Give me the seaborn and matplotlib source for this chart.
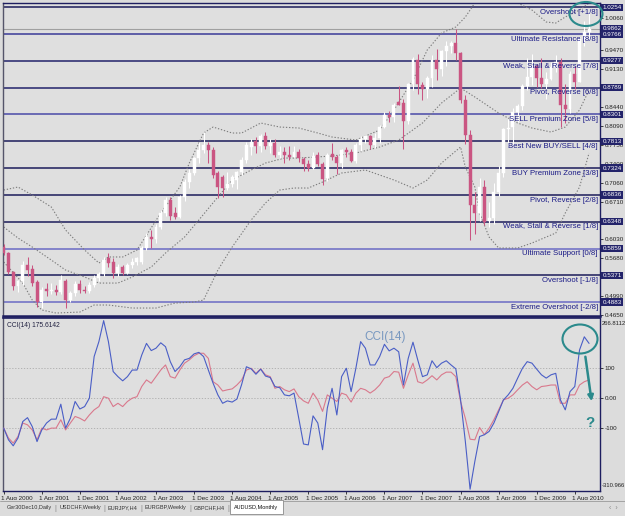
import numpy as np
import pandas as pd
import matplotlib
matplotlib.use('Agg')
import matplotlib.pyplot as plt
import matplotlib.transforms as mtransforms
import seaborn as sns
from matplotlib.patches import Ellipse, Rectangle, FancyArrowPatch

sns.set_style('white')
plt.rcParams['font.family'] = ['Liberation Sans', 'DejaVu Sans']

# AUDUSD monthly candles, Aug 2000 .. Nov 2010
opens = [0.5880, 0.5770, 0.5430, 0.5170, 0.5260, 0.5560, 0.5480, 0.5250, 0.4880, 0.5120,
         0.5080, 0.5110, 0.5060, 0.5270, 0.4920, 0.5050, 0.5210, 0.5100, 0.5080, 0.5200,
         0.5330, 0.5400, 0.5690, 0.5610, 0.5410, 0.5530, 0.5410, 0.5550, 0.5610, 0.5620,
         0.5870, 0.6070, 0.6030, 0.6250, 0.6500, 0.6740, 0.6510, 0.6440, 0.6800, 0.7070,
         0.7240, 0.7510, 0.7650, 0.7740, 0.7660, 0.7230, 0.7160, 0.6960, 0.7040, 0.7100,
         0.7250, 0.7470, 0.7700, 0.7810, 0.7720, 0.7900, 0.7730, 0.7790, 0.7560, 0.7620,
         0.7570, 0.7530, 0.7620, 0.7490, 0.7400, 0.7330, 0.7560, 0.7400, 0.7140, 0.7580,
         0.7520, 0.7410, 0.7650, 0.7620, 0.7450, 0.7740, 0.7860, 0.7900, 0.7750, 0.7880,
         0.8070, 0.8300, 0.8260, 0.8530, 0.8510, 0.8180, 0.8850, 0.9300, 0.8830, 0.8760,
         0.8960, 0.9300, 0.9130, 0.9450, 0.9550, 0.9600, 0.9420, 0.8560, 0.7930, 0.6650,
         0.6500, 0.6980, 0.6360, 0.6420, 0.6890, 0.7230, 0.8030, 0.8070, 0.8340, 0.8450,
         0.8820, 0.8990, 0.9190, 0.8970, 0.8860, 0.8950, 0.9170, 0.9250, 0.8470, 0.8400,
         0.9030, 0.8900, 0.9680, 0.9810]
highs = [0.5950, 0.5800, 0.5450, 0.5290, 0.5630, 0.5710, 0.5560, 0.5290, 0.5160, 0.5230,
         0.5230, 0.5200, 0.5370, 0.5310, 0.5080, 0.5260, 0.5290, 0.5180, 0.5250, 0.5370,
         0.5440, 0.5700, 0.5770, 0.5680, 0.5580, 0.5560, 0.5590, 0.5680, 0.5700, 0.5900,
         0.6140, 0.6196, 0.6300, 0.6560, 0.6790, 0.6790, 0.6620, 0.6840, 0.7130, 0.7300,
         0.7530, 0.7800, 0.7980, 0.7800, 0.7700, 0.7270, 0.7190, 0.7250, 0.7200, 0.7270,
         0.7520, 0.7800, 0.7850, 0.7890, 0.7950, 0.7990, 0.7850, 0.7850, 0.7720, 0.7700,
         0.7720, 0.7730, 0.7680, 0.7530, 0.7470, 0.7620, 0.7610, 0.7430, 0.7590, 0.7790,
         0.7570, 0.7670, 0.7700, 0.7680, 0.7780, 0.7900, 0.7920, 0.7930, 0.7960, 0.8110,
         0.8340, 0.8370, 0.8510, 0.8820, 0.8590, 0.8880, 0.9350, 0.9410, 0.8890, 0.9000,
         0.9390, 0.9500, 0.9470, 0.9640, 0.9640, 0.9850, 0.9440, 0.8650, 0.8010, 0.6880,
         0.7150, 0.7100, 0.6710, 0.7050, 0.7360, 0.8060, 0.8210, 0.8420, 0.8500, 0.8850,
         0.9330, 0.9400, 0.9220, 0.9330, 0.9070, 0.9260, 0.9380, 0.9330, 0.8860, 0.9090,
         0.9180, 0.9710, 0.9995, 1.0180]
lows = [0.5750, 0.5400, 0.5100, 0.5070, 0.5200, 0.5360, 0.5180, 0.4800, 0.4775, 0.5000,
        0.5030, 0.5020, 0.5030, 0.4780, 0.4890, 0.5000, 0.5040, 0.5040, 0.5050, 0.5150,
        0.5260, 0.5350, 0.5520, 0.5330, 0.5350, 0.5370, 0.5400, 0.5510, 0.5560, 0.5580,
        0.5830, 0.5870, 0.5960, 0.6210, 0.6460, 0.6380, 0.6400, 0.6420, 0.6730, 0.6970,
        0.7190, 0.7420, 0.7600, 0.7410, 0.7140, 0.6780, 0.6800, 0.6930, 0.6980, 0.6950,
        0.7200, 0.7410, 0.7570, 0.7600, 0.7620, 0.7670, 0.7600, 0.7530, 0.7500, 0.7420,
        0.7480, 0.7520, 0.7440, 0.7280, 0.7270, 0.7300, 0.7360, 0.7020, 0.7080, 0.7470,
        0.7210, 0.7320, 0.7530, 0.7440, 0.7410, 0.7640, 0.7780, 0.7670, 0.7690, 0.7780,
        0.8050, 0.8170, 0.8160, 0.8470, 0.7675, 0.8130, 0.8750, 0.8670, 0.8570, 0.8600,
        0.8810, 0.8920, 0.9000, 0.9190, 0.9420, 0.9290, 0.8510, 0.7760, 0.6010, 0.6130,
        0.6360, 0.6290, 0.6250, 0.6300, 0.6810, 0.7160, 0.7730, 0.7700, 0.8170, 0.8380,
        0.8740, 0.8840, 0.8800, 0.8780, 0.8580, 0.8920, 0.9080, 0.8080, 0.8140, 0.8320,
        0.8770, 0.8890, 0.9540, 0.9660]
closes = [0.5770, 0.5430, 0.5180, 0.5260, 0.5560, 0.5470, 0.5230, 0.4880, 0.5100, 0.5080,
          0.5110, 0.5060, 0.5290, 0.4920, 0.5050, 0.5210, 0.5100, 0.5080, 0.5200, 0.5330,
          0.5400, 0.5650, 0.5600, 0.5410, 0.5530, 0.5410, 0.5550, 0.5620, 0.5680, 0.5870,
          0.6070, 0.6030, 0.6250, 0.6500, 0.6740, 0.6460, 0.6440, 0.6800, 0.7070, 0.7240,
          0.7510, 0.7650, 0.7740, 0.7660, 0.7200, 0.6980, 0.6960, 0.7040, 0.7170, 0.7250,
          0.7470, 0.7740, 0.7800, 0.7720, 0.7900, 0.7730, 0.7790, 0.7560, 0.7620, 0.7570,
          0.7530, 0.7620, 0.7500, 0.7400, 0.7320, 0.7550, 0.7400, 0.7130, 0.7570, 0.7520,
          0.7410, 0.7650, 0.7620, 0.7450, 0.7740, 0.7860, 0.7900, 0.7750, 0.7880, 0.8070,
          0.8300, 0.8260, 0.8470, 0.8480, 0.8180, 0.8850, 0.9310, 0.8850, 0.8760, 0.8960,
          0.9300, 0.9130, 0.9450, 0.9550, 0.9600, 0.9420, 0.8560, 0.7930, 0.6650, 0.6500,
          0.6980, 0.6350, 0.6420, 0.6890, 0.7230, 0.8030, 0.8060, 0.8340, 0.8450, 0.8820,
          0.8990, 0.9180, 0.8970, 0.8860, 0.8950, 0.9170, 0.9250, 0.8470, 0.8400, 0.9030,
          0.8900, 0.9680, 0.9810, 0.9862]

# Bollinger bands, sampled by month index
upper_idx = [0, 3, 6, 10, 13, 17, 20, 22, 25, 28, 33, 37, 39, 42, 44, 48, 50, 54, 58, 62,
             66, 69, 74, 79, 82, 86, 89, 92, 95, 97, 99]
upper_val = [0.6924, 0.6979, 0.6833, 0.6615, 0.6196, 0.5832, 0.5595, 0.5705, 0.5705, 0.5832,
             0.6506, 0.6979, 0.7416, 0.7963, 0.8072, 0.7963, 0.7963, 0.8145, 0.8072, 0.8054,
             0.7963, 0.7890, 0.7835, 0.8017, 0.8382, 0.8928, 0.9475, 0.9784, 0.9894, 1.0076,
             1.0331]
upper2_idx = [108, 111, 114, 116, 118, 121, 123]
upper2_val = [1.0331, 1.0203, 0.9985, 0.9966, 1.0076, 1.0203, 1.0331]
mid_idx = [0, 3, 6, 10, 13, 17, 20, 24, 27, 31, 34, 38, 41, 45, 48, 52, 55, 59, 62, 69,
           74, 79, 83, 88, 92, 96, 99, 104, 108, 111, 115, 118, 121, 123]
mid_val = [0.6251, 0.6050, 0.5886, 0.5649, 0.5467, 0.5340, 0.5230, 0.5230, 0.5340, 0.5522,
           0.5777, 0.6068, 0.6378, 0.6797, 0.7107, 0.7289, 0.7416, 0.7507, 0.7507, 0.7544,
           0.7598, 0.7708, 0.7835, 0.8145, 0.8509, 0.8782, 0.8619, 0.8327, 0.8145, 0.8054,
           0.7981, 0.8072, 0.8382, 0.8746]
lower_idx = [0, 4, 6, 8, 11, 16, 19, 22, 27, 32, 36, 40, 42, 45, 48, 52, 55, 58, 61, 64,
             67, 71, 76, 82, 86, 89, 92, 96, 97, 99, 100, 102, 104, 108, 111, 116, 118, 121, 123]
lower_val = [0.5613, 0.5230, 0.4921, 0.4739, 0.4684, 0.4702, 0.4830, 0.4830, 0.4775, 0.4775,
             0.4866, 0.4884, 0.4921, 0.5467, 0.5886, 0.6378, 0.6688, 0.6924, 0.6961, 0.6961,
             0.7070, 0.7234, 0.7289, 0.7107, 0.6961, 0.7107, 0.7416, 0.7708, 0.7343, 0.6979,
             0.6506, 0.6068, 0.5868, 0.5868, 0.5959, 0.6141, 0.6506, 0.6979, 0.7598]

# CCI(14) and its signal line
cci_main = [-101, -140, -160, -134, -79, -66, -96, -146, -107, -84,
            -71, -71, -21, -101, -68, -12, -37, -29, -1, 138,
            188, 258, 188, 88, 71, 57, 71, 93, 93, 143,
            182, 158, 166, 184, 171, 121, 88, 104, 127, 132,
            147, 152, 138, 93, 49, 10, -18, -10, -14, -4,
            45, 104, 97, 79, 96, 73, 68, 38, 34, 10,
            7, 16, -68, -154, -157, -60, -84, -173, -34, 32,
            -57, 71, 99, 21, 99, 188, 166, 110, 110, 138,
            179, 157, 166, 154, 43, 132, 186, 127, 71, 77,
            124, 101, 116, 124, 110, 97, -6, -145, -305, -212,
            -129, -123, -112, -84, -46, -7, 10, 32, 66, 99,
            121, 116, 96, 77, 66, 77, 82, -7, -40, 21,
            38, 160, 204, 182]
cci_signal = [-101, -134, -151, -129, -84, -90, -107, -140, -101, -107,
              -101, -101, -73, -107, -84, -62, -68, -77, -57, -40,
              -29, 4, -1, -29, -18, -29, -12, -1, 4, 38,
              60, 49, 71, 93, 110, 71, 66, 93, 116, 127,
              141, 149, 149, 132, 54, 43, 23, 27, 30, 43,
              60, 93, 99, 82, 97, 77, 71, 32, 38, 27,
              21, 30, 4, -10, -18, 16, -7, -45, 10, -1,
              -12, 16, 10, -14, 16, 32, 27, 16, 27, 43,
              66, 71, 88, 86, 32, 77, 116, 54, 49, 60,
              74, 60, 77, 86, 86, 71, -12, -68, -138, -140,
              -99, -123, -101, -73, -40, -7, -1, 10, 27, 43,
              54, 38, 27, 38, 40, 43, 43, -18, -18, 10,
              10, 43, 54, 60]
cci_title = 'CCI(14) 175.6142'

# Murrey math levels
level_prices = [1.0254, 0.9766, 0.9277, 0.8789, 0.8301, 0.7813, 0.7324, 0.6836,
                0.6348, 0.5859, 0.5371, 0.4883]
level_names = ['Overshoot [+1/8]', 'Ultimate Resistance [8/8]', 'Weak, Stall & Reverse [7/8]',
               'Pivot, Reverse [6/8]', 'SELL Premium Zone [5/8]', 'Best New BUY/SELL [4/8]',
               'BUY Premium Zone [3/8]', 'Pivot, Reverse [2/8]', 'Weak, Stall & Reverse [1/8]',
               'Ultimate Support [0/8]', 'Overshoot [-1/8]', 'Extreme Overshoot [-2/8]']
level_colors = ['#1c1c5a', '#3a3a98', '#22226a', '#22226a', '#4a4aa8', '#1c1c5a',
                '#1c1c5a', '#1c1c5a', '#1c1c5a', '#6a6ac4', '#1c1c5a', '#6a6ac4']
price_ticks = [1.0060, 0.9470, 0.9130, 0.8440, 0.8090, 0.7750, 0.7400, 0.7060, 0.6710,
               0.6030, 0.5680, 0.4990, 0.4650]
bid_price = 0.9862

tabs = ['Ger30Dec10,Daily', 'USDCHF,Weekly', 'EURJPY,H4', 'EURGBP,Weekly', 'GBPCHF,H4']
active_tab = 'AUDUSD,Monthly'

df = pd.DataFrame({'open': opens, 'high': highs, 'low': lows, 'close': closes})
df['i'] = np.arange(len(df))
dates = pd.date_range('2000-08-01', periods=len(df), freq='MS')

BG = '#dfdfdf'
BULL = '#ffffff'
BEAR = '#ca5582'
BAND = '#7c7c7c'
NAVY = '#1e1e60'

W, H = 625, 516
fig = plt.figure(figsize=(W / 100, H / 100), dpi=100)
fig.patch.set_facecolor('#dcdcdc')

def frac(x0, y0, x1, y1):
    return [x0 / W, 1 - y1 / H, (x1 - x0) / W, (y1 - y0) / H]

ax = fig.add_axes(frac(3, 3, 600, 316))
ax2 = fig.add_axes(frac(3, 318, 600, 491), sharex=ax)
for a in (ax, ax2):
    a.set_facecolor(BG)
    for s in a.spines.values():
        s.set_color(NAVY)
        s.set_linewidth(1.0)
    a.spines['left'].set_color('#55556a')
ax.spines['bottom'].set_linewidth(1.8)
ax2.spines['top'].set_linewidth(1.2)

# --- main price panel ---
is_up = df['close'] >= df['open']
cols = np.where(is_up, BULL, BEAR)
ax.vlines(df['i'], df['low'], df['high'], colors=cols, lw=0.75, zorder=3)
body_lo = np.minimum(df['open'], df['close'])
body_h = np.maximum((df['close'] - df['open']).abs(), 0.0016)
ax.bar(df['i'], body_h, bottom=body_lo, width=0.62, color=cols, edgecolor=cols,
       linewidth=0.3, zorder=4)

dot = (0, (1.2, 1.6))
sns.lineplot(x=upper_idx, y=upper_val, ax=ax, color=BAND, lw=0.8, ls=dot, zorder=2)
sns.lineplot(x=upper2_idx, y=upper2_val, ax=ax, color=BAND, lw=0.8, ls=dot, zorder=2)
sns.lineplot(x=mid_idx, y=mid_val, ax=ax, color=BAND, lw=0.8, ls=dot, zorder=2)
sns.lineplot(x=lower_idx, y=lower_val, ax=ax, color=BAND, lw=0.8, ls=dot, zorder=2)

for p, name, c in zip(level_prices, level_names, level_colors):
    ax.axhline(p, color=c, lw=1.1, zorder=1)
    ax.annotate(name, xy=(1.0, p), xycoords=ax.get_yaxis_transform(),
                xytext=(-1.5, -1.2), textcoords='offset points', ha='right', va='top',
                fontsize=5.6, color='#1a1a86', zorder=6)
ax.axhline(bid_price, color='#a0a0a0', lw=0.8, zorder=1)

ax.set_xlim(-0.15, 125.3)
ax.set_ylim(0.4630, 1.0331)
ax.set_xlabel('')
ax.set_ylabel('')
ax.yaxis.tick_right()
ax.set_yticks(price_ticks)
ax.set_yticklabels([f'{p:.4f}' for p in price_ticks])
ax.tick_params(axis='y', length=2, width=0.6, pad=1.5, labelsize=4.5, colors='#222222')
ax.tick_params(axis='x', bottom=False, labelbottom=False)
for p in level_prices + [bid_price]:
    ax.text(1.004, p, f'{p:.4f}', transform=ax.get_yaxis_transform(), ha='left',
            va='center', fontsize=4.5, color='white', clip_on=False, zorder=8,
            bbox=dict(boxstyle='square,pad=0.18', fc='#23236a', ec='none'))

# --- CCI panel ---
cci_df = pd.DataFrame({'i': df['i'], 'cci': cci_main, 'signal': cci_signal})
for v in (100, 0, -100):
    ax2.axhline(v, color='#ababab', lw=0.6, ls=(0, (1.5, 2)), zorder=1)
sns.lineplot(data=cci_df, x='i', y='signal', ax=ax2, color='#d9788c', lw=0.8, zorder=3)
sns.lineplot(data=cci_df, x='i', y='cci', ax=ax2, color='#4a5ec6', lw=0.8, zorder=4)
ax2.set_ylim(-310.966, 266.8112)
ax2.set_xlabel('')
ax2.set_ylabel('')
ax2.yaxis.tick_right()
ax2.set_yticks([100, 0, -100])
ax2.set_yticklabels(['100', '0.00', '-100'])
ax2.tick_params(axis='y', length=2, width=0.6, pad=1.5, labelsize=4.5, colors='#222222')
ax2.text(1.003, 0.985, '266.8112', transform=ax2.transAxes, ha='left', va='top',
         fontsize=4.2, color='#222222')
ax2.text(1.003, 0.015, '-310.966', transform=ax2.transAxes, ha='left', va='bottom',
         fontsize=4.2, color='#222222')
ax2.text(0.006, 0.975, cci_title, transform=ax2.transAxes,
         ha='left', va='top', fontsize=4.8, color='#202040')
ax2.text(0.64, 0.89, 'CCI(14)', transform=ax2.transAxes, ha='center', va='center',
         fontsize=8.5, color='#7898c0')

tick_pos = list(range(0, len(df), 8))
ax2.set_xticks(tick_pos)
ax2.set_xticklabels([f'1 {dates[i]:%b %Y}' for i in tick_pos], ha='left')
ax2.tick_params(axis='x', bottom=True, length=2, width=0.6, pad=1.5, labelsize=4.5,
                colors='#222222')
shift = mtransforms.ScaledTranslation(-2.5 / 100, 0, fig.dpi_scale_trans)
for lab in ax2.get_xticklabels():
    lab.set_transform(lab.get_transform() + shift)

# --- overlay: hand drawn marks and terminal tabs ---
ov = fig.add_axes([0, 0, 1, 1], zorder=20)
ov.set_xlim(0, W)
ov.set_ylim(H, 0)
ov.axis('off')
ov.patch.set_alpha(0)
teal = '#2b8a8c'
ov.add_patch(Ellipse((586, 14), 33, 24, fill=False, ec=teal, lw=1.5))
ov.add_patch(Ellipse((580, 339), 35, 29, fill=False, ec=teal, lw=1.5))
ov.add_patch(FancyArrowPatch((585, 354), (592, 404), arrowstyle='-|>', mutation_scale=8,
                             color=teal, lw=1.8))
ov.text(590, 423, '?', fontsize=11, fontweight='bold', color=teal, ha='center', va='center')

ov.add_patch(Rectangle((0, 500), W, 16, fc='#dcdcdc', ec='none'))
ov.plot([0, W], [500.5, 500.5], color='#9a9a9a', lw=0.6)
renderer = fig.canvas.get_renderer()
x = 7
for t in tabs:
    txt = ov.text(x, 508, t, fontsize=4.0, color='#333333', va='center', ha='left')
    bb = txt.get_window_extent(renderer)
    x_end = bb.x1
    ov.text(x_end + 3.5, 508, '|', fontsize=5, color='#888888', va='center', ha='center')
    x = x_end + 7
tab_txt = ov.text(x + 2, 507.5, active_tab, fontsize=4.0, color='#111111', va='center',
                  ha='left', zorder=5)
tb = tab_txt.get_window_extent(renderer)
ov.add_patch(Rectangle((x - 2, 500), tb.x1 - x + 7, 14, fc='white', ec='#8a8a8a', lw=0.6,
                       zorder=4))
ov.text(613, 508, '‹  ›', fontsize=5, color='#888888', va='center', ha='center')

fig.savefig('out.png', dpi=100, facecolor=fig.get_facecolor())
